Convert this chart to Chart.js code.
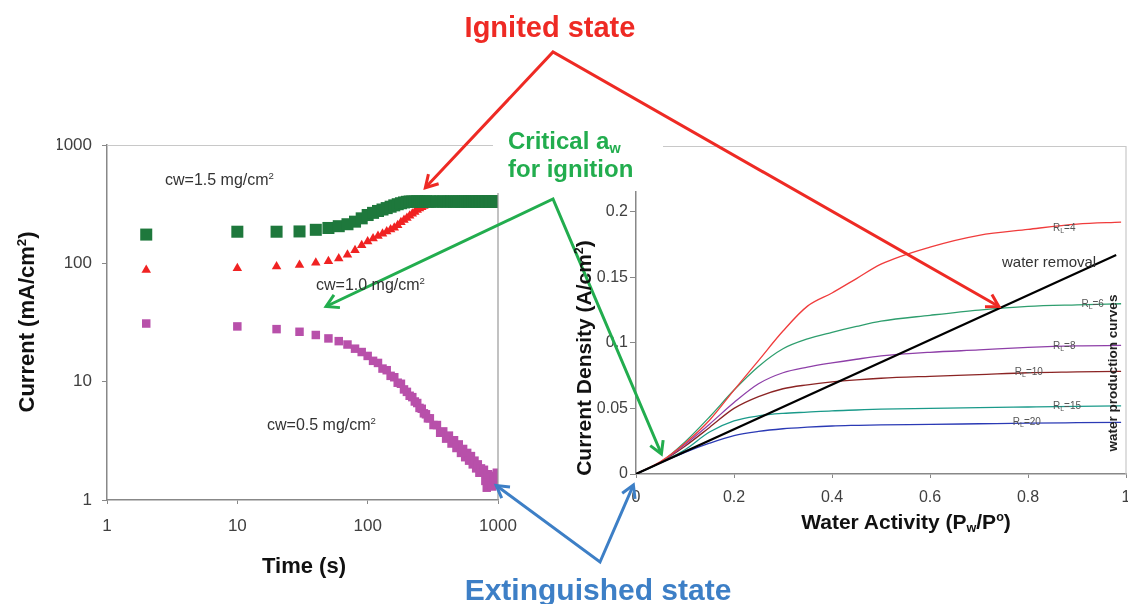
<!DOCTYPE html>
<html>
<head>
<meta charset="utf-8">
<title>Ignition / extinction</title>
<script src="https://cdn.jsdelivr.net/npm/chart.js@4.4.0/dist/chart.umd.min.js"></script>
<style>
body { margin: 0; background: #fff; }
#wrap { position: relative; width: 1128px; height: 604px; overflow: hidden; font-family: "Liberation Sans", Arial, sans-serif; }
canvas, svg { position: absolute; left: 0; top: 0; }
.t { position: absolute; white-space: nowrap; line-height: 1; transform: translate(-50%, -50%); }
.l { position: absolute; white-space: nowrap; line-height: 1; transform: translateY(-50%); }
.rot { transform: translate(-50%, -50%) rotate(-90deg); }
sup { font-size: 0.6em; vertical-align: 0.6em; line-height: 0; }
sub { font-size: 0.6em; vertical-align: -0.25em; line-height: 0; }
.ax { font-weight: bold; color: #111; }
.cw { font-size: 16px; color: #333; }
</style>
</head>
<body>
<div id="wrap">
  <canvas id="leftChart" width="1128" height="604"></canvas>
  <canvas id="rightChart" width="1128" height="604"></canvas>

  <svg width="1128" height="604">
    <defs>
      <marker id="hRed" viewBox="0 0 16 16" refX="13" refY="8" markerWidth="16" markerHeight="16" markerUnits="userSpaceOnUse" orient="auto-start-reverse" overflow="visible">
        <path d="M2,1 L14,8 L2,15" fill="none" stroke="#ee2a24" stroke-width="3"/>
      </marker>
      <marker id="hGreen" viewBox="0 0 16 16" refX="13" refY="8" markerWidth="16" markerHeight="16" markerUnits="userSpaceOnUse" orient="auto-start-reverse" overflow="visible">
        <path d="M2,1 L14,8 L2,15" fill="none" stroke="#22ad4e" stroke-width="3"/>
      </marker>
      <marker id="hBlue" viewBox="0 0 16 16" refX="13" refY="8" markerWidth="16" markerHeight="16" markerUnits="userSpaceOnUse" orient="auto-start-reverse" overflow="visible">
        <path d="M2,1 L14,8 L2,15" fill="none" stroke="#3d7fc6" stroke-width="3"/>
      </marker>
    </defs>
    <!-- frame lines -->
    <path d="M107,145.5 H493" stroke="#c8c8c8" stroke-width="1.2" fill="none"/>
    <path d="M498,193 V500" stroke="#999" stroke-width="1.2" fill="none"/>
    <path d="M663,146.5 H1126 V474" stroke="#c8c8c8" stroke-width="1.2" fill="none"/>
    <!-- arrows -->
    <polyline points="426,187 553,52 998,306" fill="none" stroke="#ee2a24" stroke-width="3" marker-start="url(#hRed)" marker-end="url(#hRed)"/>
    <polyline points="327,306 553,199 661,453" fill="none" stroke="#22ad4e" stroke-width="3" marker-start="url(#hGreen)" marker-end="url(#hGreen)"/>
    <polyline points="497,486 600,562 633,486" fill="none" stroke="#3d7fc6" stroke-width="3" marker-start="url(#hBlue)" marker-end="url(#hBlue)"/>
  </svg>

  <!-- annotations -->
  <div class="t" style="left:550px; top:27px; font-size:29px; font-weight:bold; color:#ee2a24;">Ignited state</div>
  <div style="position:absolute; left:508px; top:127px; font-size:24px; line-height:28px; font-weight:bold; color:#22ad4e; white-space:nowrap;">Critical a<sub>w</sub><br>for ignition</div>
  <div class="t" style="left:598px; top:590px; font-size:30px; font-weight:bold; color:#3d7fc6;">Extinguished state</div>

  <div class="l cw" style="left:165px; top:180px;">cw=1.5 mg/cm<sup>2</sup></div>
  <div class="l cw" style="left:316px; top:285px;">cw=1.0 mg/cm<sup>2</sup></div>
  <div class="l cw" style="left:267px; top:425px;">cw=0.5 mg/cm<sup>2</sup></div>

  <div class="l" style="left:1002px; top:261px; font-size:15px; color:#333;">water removal</div>
  <div class="t rot" style="left:1113px; top:373px; font-size:13.5px; font-weight:bold; color:#222;">water production curves</div>

  <!-- axis titles -->
  <div class="t rot ax" style="left:27px; top:322px; font-size:22px;">Current (mA/cm<sup>2</sup>)</div>
  <div class="t ax" style="left:304px; top:566px; font-size:22px;">Time (s)</div>
  <div class="t rot ax" style="left:583px; top:358px; font-size:21px;">Current Density (A/cm<sup>2</sup>)</div>
  <div class="t ax" style="left:906px; top:521px; font-size:21px;">Water Activity (P<sub>w</sub>/P<sup>o</sup>)</div>
</div>

<script>
// ---- left panel: current vs time, log-log ----
const timeS = [2,10,20,30,40,50,60,70,80,90,
  100,110,120,130,140,150,160,170,180,190,
  200,210,220,230,240,250,260,270,280,290,
  300,320,340,360,380,400,420,440,460,480,
  500,520,540,560,580,600,620,640,660,680,
  700,720,740,760,780,800,820,840,860,880,
  900,920,940,960,980,1000];

// cw = 1.5 mg/cm2 (ignites)
const cw15 = [175,185,185,186,192,199,206,214,225,240,
  256,267,277,285,293,301,309,316,322,327,
  331,333,333,332,334,333,332,333,334,332,
  333,333,332,334,333,332,333,334,332,333,
  333,332,334,333,332,333,334,333,332,333,
  333,334,332,333,333,332,334,333,333,332,
  333,334,333,332,333,333];

// cw = 1.0 mg/cm2 (ignites later)
const cw10 = [88,91,94,97,101,104,110,118,129,142,
  153,162,170,178,186,193,200,210,222,232,
  242,252,262,272,282,291,298,305,312,320,
  326,330,331,331,330,331,331,330,331,331,
  330,331,331,330,331,331,330,331,331,330,
  331,331,330,331,331,330,331,331,330,331,
  331,330,331,331,330,331];

// cw = 0.5 mg/cm2 (extinguishes)
const cw05 = [31,29.3,27.8,26.4,24.8,23.2,22.0,20.6,19.0,17.8,
  16.5,15.0,14.4,12.9,12.5,11.2,10.9,9.8,9.6,8.6,
  8.2,7.6,7.4,6.8,6.6,6.0,5.9,5.4,5.3,4.9,
  4.9,4.3,4.3,3.7,3.8,3.3,3.5,3.0,3.2,2.75,
  2.95,2.5,2.7,2.3,2.5,2.15,2.35,2.0,2.15,1.85,
  2.0,1.7,1.85,1.7,1.8,1.45,1.27,1.65,1.35,1.55,
  1.3,1.5,1.6,1.45,1.7,1.55];

const logTicks = [1, 10, 100, 1000];

// ---- right panel: current density vs water activity ----
const awX  = [0,0.05,0.1,0.15,0.2,0.25,0.3,0.35,0.4,0.45,0.5,0.6,0.7,0.8,0.9,0.99];
const rl4  = [0,0.0095,0.0235,0.041,0.064,0.0865,0.109,0.128,0.138,0.149,0.160,0.173,0.182,0.1865,0.1905,0.192];
const rl6  = [0,0.009,0.0245,0.0435,0.064,0.082,0.0955,0.103,0.108,0.1125,0.1165,0.121,0.125,0.1278,0.129,0.1298];
const rl8  = [0,0.009,0.0225,0.038,0.0545,0.0688,0.0772,0.0815,0.0847,0.0875,0.090,0.0928,0.0946,0.0965,0.0977,0.098];
const rl10 = [0,0.009,0.0212,0.0355,0.050,0.059,0.065,0.068,0.0702,0.0718,0.073,0.0745,0.0758,0.0772,0.0778,0.0783];
const rl15 = [0,0.0088,0.0185,0.032,0.0405,0.0443,0.0462,0.0472,0.0482,0.0488,0.0494,0.050,0.0506,0.0511,0.0516,0.052];
const rl20 = [0,0.0085,0.0165,0.0235,0.0293,0.0325,0.0345,0.0357,0.0366,0.0371,0.0375,0.0378,0.0383,0.0388,0.0391,0.0393];
const removalX = [0, 0.98];
const removalY = [0, 0.167];

const xTicksR = [0, 0.2, 0.4, 0.6, 0.8, 1];
const yTicksR = [0, 0.05, 0.1, 0.15, 0.2];

// curve labels R_L = ..
const rlNames  = ['4', '6', '8', '10', '15', '20'];
const rlLabelX = [0.851, 0.909, 0.851, 0.773, 0.851, 0.769];
const rlLabelY = [0.1875, 0.1295, 0.0975, 0.0772, 0.0517, 0.0391];

const FONT = '"Liberation Sans", Arial, sans-serif';
const pts = (xs, ys) => xs.map((v, i) => ({x: v, y: ys[i]}));

// left chart
new Chart(document.getElementById('leftChart'), {
  type: 'scatter',
  data: {
    datasets: [
      {label: 'cw=1.5', data: pts(timeS, cw15), pointStyle: 'rect', pointRadius: 8.5, backgroundColor: '#1e783c', borderWidth: 0},
      {label: 'cw=1.0', data: pts(timeS, cw10), pointStyle: 'triangle', pointRadius: 5.5, backgroundColor: '#f02222', borderWidth: 0},
      {label: 'cw=0.5', data: pts(timeS, cw05), pointStyle: 'rect', pointRadius: 6, backgroundColor: '#b850aa', borderWidth: 0}
    ]
  },
  options: {
    responsive: false,
    animation: false,
    events: [],
    layout: {padding: {left: 57, top: 145, right: 630, bottom: 64}},
    plugins: {legend: {display: false}, tooltip: {enabled: false}},
    scales: {
      x: {
        type: 'logarithmic', min: 1, max: 1000,
        afterBuildTicks: s => { s.ticks = logTicks.map(v => ({value: v})); },
        afterFit: s => { s.height = 40; s.paddingLeft = 0; s.paddingRight = 0; },
        ticks: {font: {size: 17, family: FONT}, color: '#404040', padding: 12, maxRotation: 0, autoSkip: false, callback: v => String(v)},
        grid: {display: true, drawOnChartArea: false, tickLength: 4, color: '#888'},
        border: {display: true, color: '#888', width: 1.5}
      },
      y: {
        type: 'logarithmic', min: 1, max: 1000,
        afterBuildTicks: s => { s.ticks = logTicks.map(v => ({value: v})); },
        afterFit: s => { s.width = 50; s.paddingTop = 0; s.paddingBottom = 0; },
        ticks: {font: {size: 17, family: FONT}, color: '#404040', padding: 10, autoSkip: false, callback: v => String(v)},
        grid: {display: true, drawOnChartArea: false, tickLength: 5, color: '#888'},
        border: {display: true, color: '#888', width: 1.5}
      }
    }
  }
});

// labels on the production curves
const curveLabels = {
  id: 'curveLabels',
  afterDatasetsDraw(chart) {
    const {ctx, scales: {x, y}} = chart;
    ctx.save();
    ctx.fillStyle = '#555';
    ctx.textBaseline = 'middle';
    rlNames.forEach((n, i) => {
      let px = x.getPixelForValue(rlLabelX[i]);
      const py = y.getPixelForValue(rlLabelY[i]);
      ctx.font = '10px ' + FONT;
      ctx.fillText('R', px, py);
      px += ctx.measureText('R').width;
      ctx.font = '7px ' + FONT;
      ctx.fillText('L', px, py + 2.5);
      px += ctx.measureText('L').width;
      ctx.font = '10px ' + FONT;
      ctx.fillText('=' + n, px, py);
    });
    ctx.restore();
  }
};

const curve = (label, ys, color) => ({
  label: label, data: pts(awX, ys), borderColor: color, borderWidth: 1.3,
  pointRadius: 0, cubicInterpolationMode: 'monotone', fill: false
});

new Chart(document.getElementById('rightChart'), {
  type: 'line',
  data: {
    datasets: [
      {label: 'water removal', data: pts(removalX, removalY), borderColor: '#000', borderWidth: 2.2, pointRadius: 0, fill: false},
      curve('RL=4', rl4, '#f03c3c'),
      curve('RL=6', rl6, '#2e9e6e'),
      curve('RL=8', rl8, '#8e3fa8'),
      curve('RL=10', rl10, '#8b2424'),
      curve('RL=15', rl15, '#1a9a8a'),
      curve('RL=20', rl20, '#2b3ab5')
    ]
  },
  options: {
    responsive: false,
    animation: false,
    events: [],
    layout: {padding: {left: 596, top: 192, right: 2, bottom: 100}},
    plugins: {legend: {display: false}, tooltip: {enabled: false}},
    scales: {
      x: {
        type: 'linear', min: 0, max: 1,
        afterBuildTicks: s => { s.ticks = xTicksR.map(v => ({value: v})); },
        afterFit: s => { s.height = 30; s.paddingLeft = 0; s.paddingRight = 0; },
        ticks: {font: {size: 16, family: FONT}, color: '#404040', padding: 10, maxRotation: 0, autoSkip: false, callback: v => String(v)},
        grid: {display: true, drawOnChartArea: false, tickLength: 4, color: '#888'},
        border: {display: true, color: '#888', width: 1.5}
      },
      y: {
        type: 'linear', min: 0, max: 0.215,
        afterBuildTicks: s => { s.ticks = yTicksR.map(v => ({value: v})); },
        afterFit: s => { s.width = 40; s.paddingTop = 0; s.paddingBottom = 0; },
        ticks: {font: {size: 16, family: FONT}, color: '#404040', padding: 2, autoSkip: false, callback: v => String(v)},
        grid: {display: true, drawOnChartArea: false, tickLength: 6, color: '#888'},
        border: {display: true, color: '#888', width: 1.5}
      }
    }
  },
  plugins: [curveLabels]
});
</script>
</body>
</html>
